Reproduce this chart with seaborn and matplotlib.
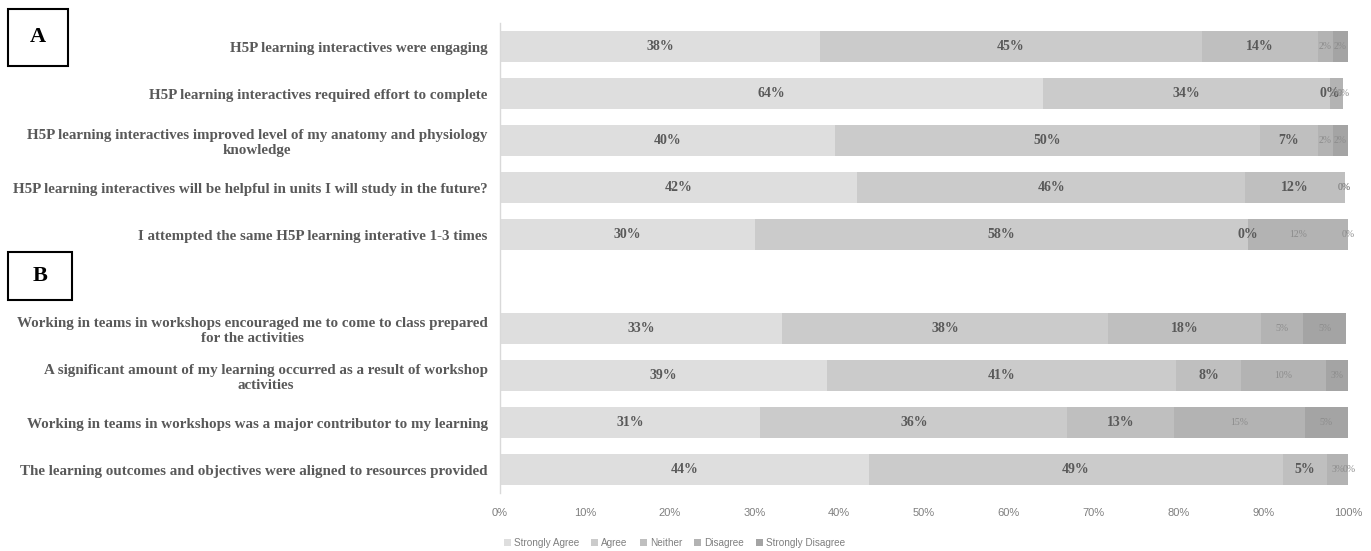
import numpy as np
import pandas as pd
import seaborn as sns
from matplotlib import pyplot as plt
from matplotlib.patches import Patch, Rectangle

# survey statements (top to bottom), " " is the spacer row between parts A and B
statements = [
    'H5P learning interactives were engaging',
    'H5P learning interactives required effort to complete',
    'H5P learning interactives improved level of my anatomy and physiology\nknowledge',
    'H5P learning interactives will be helpful in units I will study in the future?',
    'I attempted the same H5P learning interative 1-3 times',
    ' ',
    'Working in teams in workshops encouraged me to come to class prepared\nfor the activities',
    'A significant amount of my learning occurred as a result of workshop\nactivities',
    'Working in teams in workshops was a major contributor to my learning',
    'The learning outcomes and objectives were aligned to resources provided',
]

responses = ['Strongly Agree', 'Agree', 'Neither', 'Disagree', 'Strongly Disagree']

# percentages
strongly_agree = [37.7, 64.0, 39.5, 42.1, 30.1, 0, 33.3, 38.6, 30.7, 43.5]
agree = [45.1, 33.9, 50.1, 45.8, 58.1, 0, 38.4, 41.1, 36.2, 48.8]
neither = [13.7, 0.0, 6.9, 11.7, 0.0, 0, 18.0, 7.7, 12.6, 5.2]
disagree = [1.7, 1.5, 1.7, 0.0, 11.8, 0, 5.0, 10.0, 15.4, 2.6]
strongly_disagree = [1.8, 0.0, 1.8, 0.0, 0.0, 0, 5.1, 2.6, 5.1, 0.0]

palette = ['#dedede', '#cbcbcb', '#bfbfbf', '#b3b3b3', '#a4a4a4']

df = pd.DataFrame({
    'statement': statements,
    'Strongly Agree': strongly_agree,
    'Agree': agree,
    'Neither': neither,
    'Disagree': disagree,
    'Strongly Disagree': strongly_disagree,
})
cum = df[responses].cumsum(axis=1)

sns.set_theme(style='white')
plt.rcParams['font.family'] = ['Liberation Sans', 'DejaVu Sans']

fig = plt.figure(figsize=(13.71, 5.51), dpi=100)
ax = fig.add_axes([0.3647, 0.105, 0.6185, 0.853])

# layered bars: widest cumulative first, so each segment shows on top
for i in range(len(responses) - 1, -1, -1):
    sns.barplot(x=cum[responses[i]], y=df['statement'], color=palette[i],
                orient='h', width=0.66, saturation=1, linewidth=0,
                errorbar=None, ax=ax)

# segment labels
for r in range(len(df)):
    if df['statement'][r] == ' ':
        continue
    left = 0
    for i, resp in enumerate(responses):
        v = df[resp][r]
        mid = left + v / 2
        if i < 3:
            ax.text(mid, r, f'{v:.0f}%', ha='center', va='center', fontsize=10,
                    fontweight='bold', color='#595959', family='Liberation Serif')
        else:
            ax.text(mid, r, f'{v:.0f}%', ha='center', va='center', fontsize=7,
                    color='#8c8c8c', family='Liberation Serif')
        left += v

ax.set_xlim(0, 100)
ax.set_xticks(np.arange(0, 101, 10))
ax.set_xticklabels([f'{t}%' for t in range(0, 101, 10)])
ax.set_xlabel('')
ax.set_ylabel('')
ax.tick_params(axis='x', length=0, pad=11, labelsize=8, labelcolor='#7f7f7f')
ax.tick_params(axis='y', length=0, pad=9)
for lab in ax.get_yticklabels():
    lab.set_fontfamily('Liberation Serif')
    lab.set_fontweight('bold')
    lab.set_fontsize(10.8)
    lab.set_color('#595959')
    lab.set_multialignment('center')
    lab.set_linespacing(1.15)

for s in ['top', 'right', 'bottom']:
    ax.spines[s].set_visible(False)
ax.spines['left'].set_color('#d9d9d9')
ax.spines['left'].set_linewidth(1)

handles = [Patch(facecolor=palette[i], edgecolor='none', label=responses[i])
           for i in range(len(responses))]
fig.legend(handles=handles, loc='center', bbox_to_anchor=(0.492, 0.014),
           ncol=5, frameon=False, fontsize=7.2, labelcolor='#7f7f7f',
           handlelength=0.7, handleheight=0.7, handletextpad=0.3,
           columnspacing=1.2)

# panel tags
W, H = 1371, 551
for tag, (x0, y0, x1, y1) in [('A', (8, 9, 68, 66)), ('B', (8, 252, 72, 300))]:
    fig.patches.append(Rectangle((x0 / W, 1 - y1 / H), (x1 - x0) / W, (y1 - y0) / H,
                                 transform=fig.transFigure, fill=False,
                                 edgecolor='black', linewidth=1.5))
    fig.text((x0 + x1) / 2 / W, 1 - (y0 + y1) / 2 / H, tag, ha='center',
             va='center', fontsize=16, fontweight='bold',
             family='Liberation Serif', color='black')

fig.savefig('out.png', dpi=100)
